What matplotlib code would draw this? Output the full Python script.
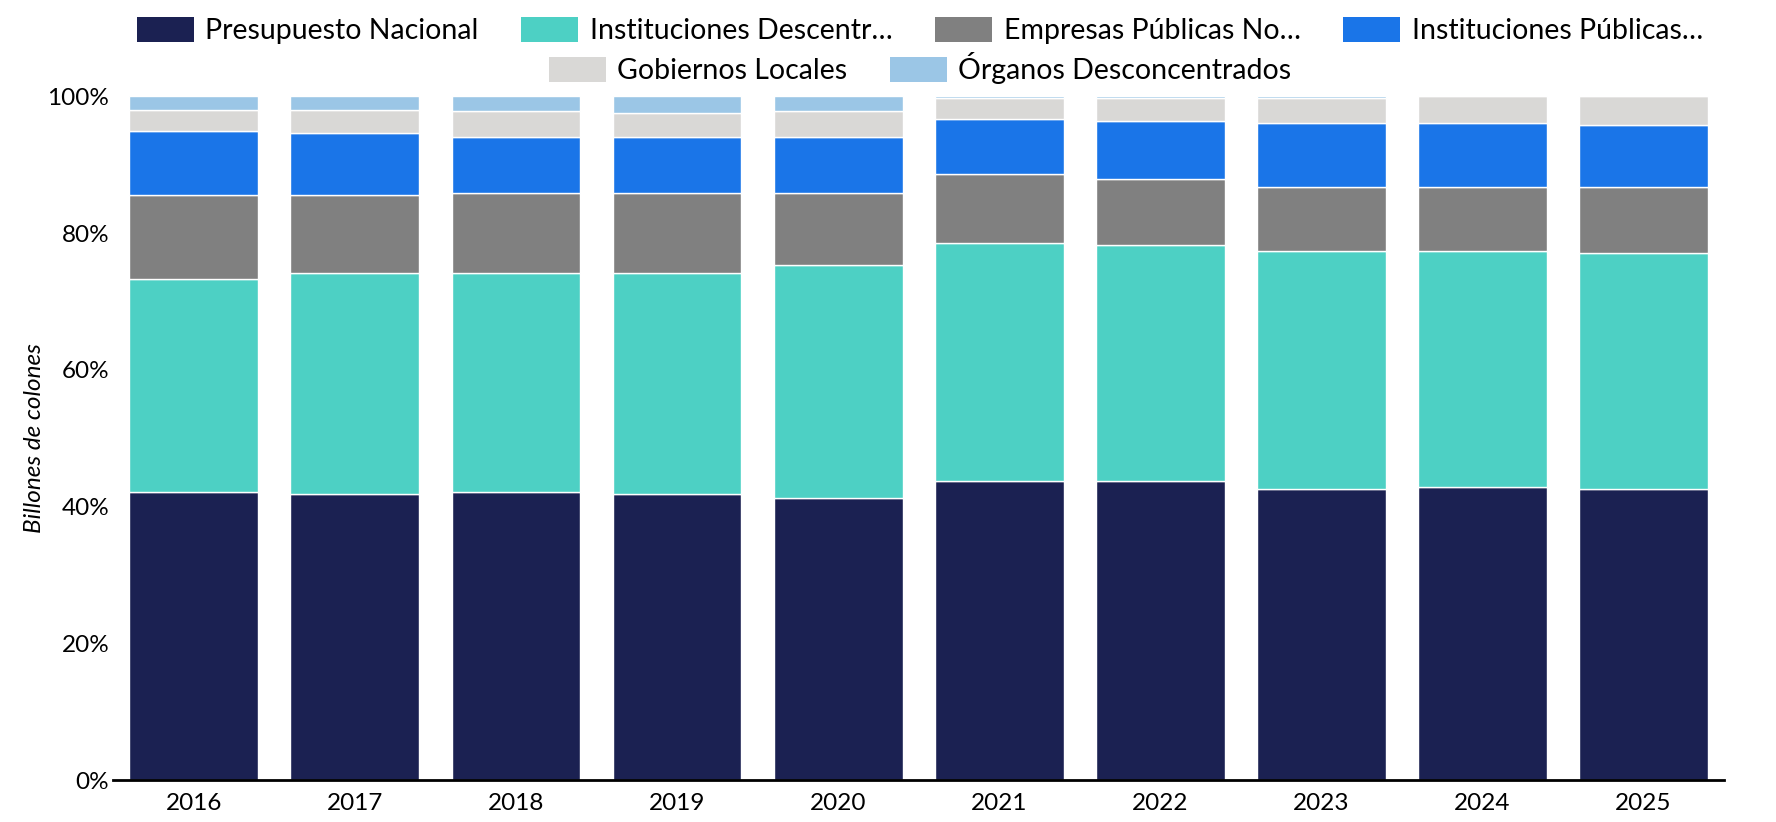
import numpy as np
import matplotlib
matplotlib.use("Agg")
from matplotlib import pyplot as plt
from matplotlib.patches import Patch
from matplotlib.ticker import PercentFormatter

plt.rcParams['font.family'] = ['Lato', 'DejaVu Sans']

years = ['2016', '2017', '2018', '2019', '2020', '2021', '2022', '2023', '2024', '2025']

# shares of the total, in %
presupuesto_nacional = [42.2, 41.9, 42.2, 41.9, 41.3, 43.7, 43.7, 42.6, 42.9, 42.6]
inst_descentralizadas = [31.1, 32.3, 32.0, 32.3, 34.0, 34.8, 34.5, 34.8, 34.5, 34.5]
empresas_publicas = [12.2, 11.3, 11.6, 11.6, 10.5, 10.2, 9.7, 9.3, 9.3, 9.6]
inst_publicas_fin = [9.4, 9.1, 8.2, 8.2, 8.2, 7.9, 8.5, 9.4, 9.4, 9.1]
gobiernos_locales = [3.1, 3.4, 3.8, 3.5, 3.8, 3.1, 3.3, 3.6, 3.9, 4.2]
organos_desconc = [2.0, 2.0, 2.2, 2.5, 2.2, 0.3, 0.3, 0.3, 0.0, 0.0]

series = [presupuesto_nacional, inst_descentralizadas, empresas_publicas,
          inst_publicas_fin, gobiernos_locales, organos_desconc]
labels = ['Presupuesto Nacional', 'Instituciones Descentr…', 'Empresas Públicas No…',
          'Instituciones Públicas…', 'Gobiernos Locales', 'Órganos Desconcentrados']
colors = ['#1b2152', '#4dd0c4', '#808080', '#1a75e8', '#d9d8d6', '#9bc6e6']

fig = plt.figure(figsize=(17.76, 8.22), dpi=100)
ax = fig.add_axes([0.0638, 0.0505, 0.9069, 0.8325])

x = np.arange(len(years))
bottom = np.zeros(len(years))
for vals, col in zip(series, colors):
    vals = np.array(vals)
    ax.bar(x, vals, 0.8, bottom=bottom, color=col, edgecolor='white', linewidth=1.0)
    bottom += vals

ax.set_xlim(-0.5, len(years) - 0.5)
ax.set_ylim(0, 100)
ax.set_xticks(x)
ax.set_xticklabels(years)
ax.set_yticks([0, 20, 40, 60, 80, 100])
ax.yaxis.set_major_formatter(PercentFormatter(decimals=0))
ax.tick_params(axis='both', length=0, labelsize=17.5, colors='black')
ax.tick_params(axis='x', pad=9)
ax.tick_params(axis='y', pad=3)
for s in ['top', 'right', 'left']:
    ax.spines[s].set_visible(False)
ax.spines['bottom'].set_linewidth(2)
ax.spines['bottom'].set_color('black')

ax.set_ylabel('Billones de colones', fontsize=17.5, style='italic', labelpad=1.5)

# legend in two centred rows
handles = [Patch(facecolor=c, edgecolor='none') for c in colors]
leg_kw = dict(frameon=False, fontsize=20.5, handlelength=2.0, handleheight=1.0,
              handletextpad=0.4, columnspacing=1.5, loc='center')
fig.legend(handles[:4], labels[:4], ncol=4, bbox_to_anchor=(0.518, 0.963), **leg_kw)
fig.legend(handles[4:], labels[4:], ncol=2, bbox_to_anchor=(0.518, 0.917), **leg_kw)

fig.savefig('out.png', dpi=100)
